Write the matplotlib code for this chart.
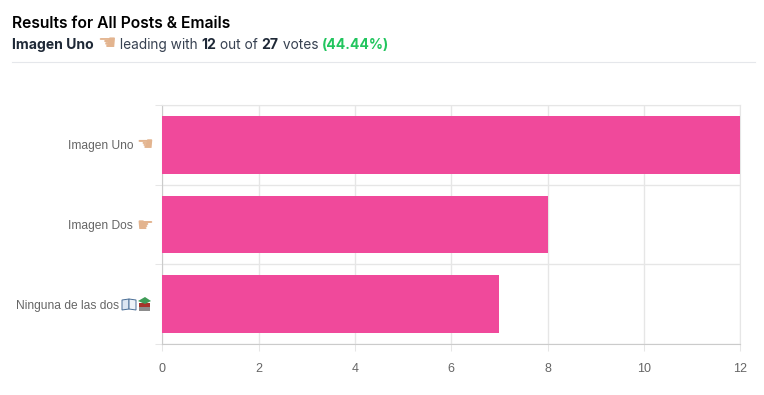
import matplotlib
matplotlib.use("Agg")
from matplotlib import pyplot as plt
from matplotlib.patches import Polygon, Rectangle

categories = ["Imagen Uno", "Imagen Dos", "Ninguna de las dos"]
votes = [12, 8, 7]
x_ticks = [0, 2, 4, 6, 8, 10, 12]
total_votes = 27
percent = "44.44%"

W, H = 764, 395
PINK = "#F0499B"
GRID = "#E6E6E6"
AXIS = "#CBCBCB"
SKIN = "#E3B48F"

plt.rcParams["font.family"] = ["Liberation Sans", "DejaVu Sans"]
fig = plt.figure(figsize=(W / 100, H / 100), dpi=100)

# chart area, in pixels from the top left of the picture
left, right, top, bottom = 162.3, 740.3, 105.0, 344.0
ax = fig.add_axes([left / W, 1 - bottom / H, (right - left) / W, (bottom - top) / H])

y_pos = list(range(len(categories)))
ax.barh(y_pos, votes, height=0.72, color=PINK, zorder=3)
ax.set_xlim(0, 12)
ax.set_ylim(len(categories) - 0.5, -0.5)

ax.set_xticks(x_ticks)
ax.set_yticks([i - 0.5 for i in range(len(categories) + 1)])
ax.set_yticklabels([])
ax.grid(True, color=GRID, linewidth=1, zorder=0)
ax.tick_params(axis="both", which="major", length=5, width=0.75, color=GRID,
               labelcolor="#666666", labelsize=9)
ax.tick_params(axis="x", pad=9)
for side in ["top", "right"]:
    ax.spines[side].set_color(GRID)
for side in ["left", "bottom"]:
    ax.spines[side].set_color(AXIS)

# overlay in pixel coordinates for the header and the row labels
over = fig.add_axes([0, 0, 1, 1], facecolor="none")
over.set_xlim(0, W)
over.set_ylim(H, 0)
over.axis("off")
over.plot([12, 755], [62, 62], color="#E5E7EB", linewidth=0.8)

renderer = fig.canvas.get_renderer()


def put_runs(x, y, runs):
    # write pieces of text one after another on the same baseline
    for text, style in runs:
        t = over.text(x, y, text, va="baseline", ha="left", **style)
        x += t.get_window_extent(renderer).width
    return x


SUB = "#1F2937"
bold = dict(family="Inter", fontsize=10.1, weight="bold", color=SUB)
plain = dict(family="Inter", fontsize=9.85, color="#374151")
hand = dict(family="DejaVu Sans", fontsize=15, color=SKIN)

over.text(12, 28, "Results for All Posts & Emails", family="Inter", fontsize=11.25,
          weight="semibold", color="#000000", va="baseline")
put_runs(12, 49, [
    (categories[0] + " ", bold),
    ("\u261a", hand),
    (" leading with ", plain),
    (str(votes[0]), bold),
    (" out of ", plain),
    (str(total_votes), bold),
    (" votes ", plain),
    (f"({percent})", dict(bold, color="#22C55E")),
])

# row labels, right aligned against the little pictures
label_style = dict(fontsize=8.65, color="#666666", va="center", ha="right")
over.text(133, 145.5, categories[0], **label_style)
over.text(153, 145, "\u261a", family="DejaVu Sans", fontsize=13.5, color=SKIN, va="center", ha="right")
over.text(133, 225.5, categories[1], **label_style)
over.text(153, 225, "\u261b", family="DejaVu Sans", fontsize=13.5, color=SKIN, va="center", ha="right")
over.text(119, 305.5, categories[2], **label_style)

# open book and pile of books next to the last label
over.add_patch(Polygon([(122, 300), (129, 299), (129, 309), (122, 310)], fc="#DCE6F2", ec="#4A6E96", lw=0.7))
over.add_patch(Polygon([(129, 299), (136, 300), (136, 310), (129, 309)], fc="#EDF2F8", ec="#4A6E96", lw=0.7))
over.add_patch(Rectangle((139, 307), 11, 4, fc="#8C8C8C", ec="none"))
over.add_patch(Rectangle((139, 303), 11, 4, fc="#A5342B", ec="none"))
over.add_patch(Polygon([(138, 301), (145, 297), (151, 301), (145, 304)], fc="#3E9B57", ec="none"))

fig.savefig("out.png", dpi=100)
